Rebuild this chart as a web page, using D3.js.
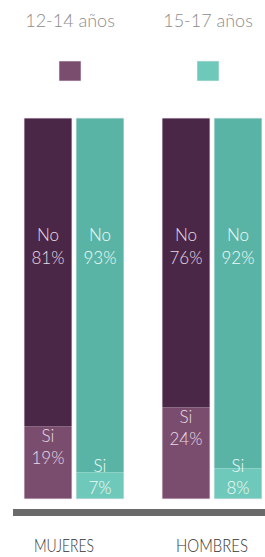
<!DOCTYPE html>
<html>
<head>
<meta charset="utf-8">
<script src="https://cdn.jsdelivr.net/npm/d3@7"></script>
<style>
  html, body { margin: 0; padding: 0; background: #fff; }
  svg { display: block; font-family: Lato, 'Open Sans', sans-serif; }
</style>
</head>
<body>
<div id="chart"></div>
<script>
const genders = ['MUJERES', 'HOMBRES'];
const ageGroups = ['12-14 años', '15-17 años'];
// percentages by gender, then age group
const siValues = [[19, 7], [24, 8]];
const noValues = [[81, 93], [76, 92]];

const width = 265;
const height = 557;

const colors = {
  '12-14 años': { no: '#4a2747', si: '#7a4d6f', text: '#e6dbe4' },
  '15-17 años': { no: '#5ab4a6', si: '#6fc9ba', text: '#effaf7' }
};

const svg = d3.select('#chart').append('svg')
  .attr('width', width)
  .attr('height', height);

const x0 = d3.scaleBand()
  .domain(genders)
  .range([24, 262])
  .paddingInner(0.2754);

const x1 = d3.scaleBand()
  .domain(ageGroups)
  .range([0, x0.bandwidth()])
  .paddingInner(0.0769);

const y = d3.scaleLinear()
  .domain([0, 100])
  .range([499, 118]);

// legend
const legend = svg.append('g')
  .selectAll('g')
  .data(ageGroups)
  .join('g')
  .attr('transform', (d, i) => `translate(${x0(genders[i]) + x0.bandwidth() / 2 - 4},0)`);

legend.append('text')
  .attr('y', 27)
  .attr('text-anchor', 'middle')
  .attr('font-size', 18)
  .attr('font-weight', 300)
  .attr('fill', '#8c8c8c')
  .text(d => d);

legend.append('rect')
  .attr('x', -11)
  .attr('y', 61)
  .attr('width', 22)
  .attr('height', 20)
  .attr('fill', d => colors[d].si)
  .attr('stroke', '#eee')
  .attr('stroke-width', 0.6);

// bars
const rows = [];
genders.forEach((g, gi) => {
  ageGroups.forEach((a, ai) => {
    rows.push({ gender: g, age: a, si: siValues[gi][ai], no: noValues[gi][ai] });
  });
});

const bars = svg.append('g')
  .selectAll('g')
  .data(rows)
  .join('g')
  .attr('transform', d => `translate(${x0(d.gender) + x1(d.age)},0)`);

bars.append('rect')
  .attr('y', d => y(d.si + d.no))
  .attr('height', d => y(d.si) - y(d.si + d.no))
  .attr('width', x1.bandwidth())
  .attr('fill', d => colors[d.age].no);

bars.append('rect')
  .attr('y', d => y(d.si))
  .attr('height', d => y(0) - y(d.si))
  .attr('width', x1.bandwidth())
  .attr('fill', d => colors[d.age].si);

bars.append('rect')
  .attr('y', d => y(d.si + d.no))
  .attr('height', d => y(0) - y(d.si + d.no))
  .attr('width', x1.bandwidth())
  .attr('fill', 'none')
  .attr('stroke', '#f2eef2')
  .attr('stroke-width', 0.8);

const cx = x1.bandwidth() / 2;

const noLabel = bars.append('text')
  .attr('text-anchor', 'middle')
  .attr('font-size', 17)
  .attr('font-weight', 300)
  .attr('fill', d => colors[d.age].text);
noLabel.append('tspan').attr('x', cx).attr('y', d => y(d.si + d.no) + 123).text('No');
noLabel.append('tspan').attr('x', cx).attr('y', d => y(d.si + d.no) + 146).text(d => d.no + '%');

const siLine = d => Math.min(y(d.si) + 15, y(0) - 27);
const siLabel = bars.append('text')
  .attr('text-anchor', 'middle')
  .attr('font-size', 17)
  .attr('font-weight', 300)
  .attr('fill', d => colors[d.age].text);
siLabel.append('tspan').attr('x', cx).attr('y', siLine).text('Si');
siLabel.append('tspan').attr('x', cx).attr('y', d => siLine(d) + 22).text(d => d.si + '%');

// baseline bar
svg.append('rect')
  .attr('x', x0.range()[0] - 11)
  .attr('y', y(0) + 10)
  .attr('width', width)
  .attr('height', 7)
  .attr('fill', '#6a6a6a');

// category labels (narrow lettering as in the original)
svg.append('g')
  .selectAll('text')
  .data(genders)
  .join('text')
  .attr('x', (d, i) => x0(d) + x0.bandwidth() / 2 - (i === 0 ? 10 : 0))
  .attr('y', 552)
  .attr('text-anchor', 'middle')
  .attr('font-size', 18)
  .attr('font-weight', 300)
  .attr('textLength', (d, i) => i === 0 ? 60 : 72)
  .attr('lengthAdjust', 'spacingAndGlyphs')
  .attr('fill', '#333')
  .text(d => d);
</script>
</body>
</html>
